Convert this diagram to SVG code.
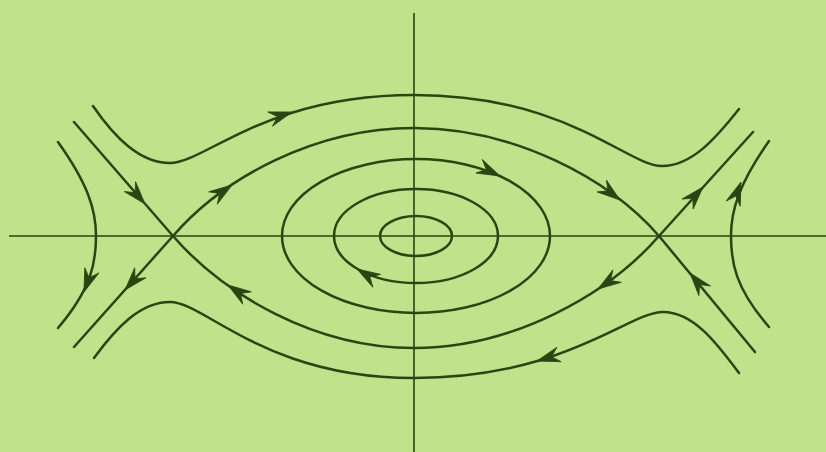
<svg xmlns="http://www.w3.org/2000/svg" xmlns:xlink="http://www.w3.org/1999/xlink" width="826" height="452" viewBox="0 0 826 452">
<style>
.axis{stroke:#2a4512;stroke-width:1.6;fill:none}
.orbit{stroke:#2a4512;stroke-width:2.5;fill:none;stroke-linecap:round}
.ah{fill:#2a4512;stroke:#2a4512;stroke-width:0.8;stroke-linejoin:round}
</style>
<defs>
<path id="ah" class="ah" d="M0,0 L-23,-7.5 L-15,0 L-23,7.5 Z"/>
</defs>
<rect width="826" height="452" fill="#bee38b"/>
<g id="axes">
<line class="axis" x1="9" y1="236" x2="826" y2="236"/>
<line class="axis" x1="414" y1="13" x2="414" y2="452"/>
</g>
<g id="center-orbits">
<ellipse class="orbit" cx="416" cy="236" rx="36" ry="20"/>
<ellipse class="orbit" cx="416" cy="236" rx="82" ry="47"/>
<ellipse class="orbit" cx="416" cy="236" rx="134" ry="77"/>
</g>
<g id="connectors">
<path id="sep-upper" class="orbit" d="M74,347 L173,236 C223,178.5 314,128 414,128 C514,128 609,178.5 659,236 L755,352"/>
<path id="sep-lower" class="orbit" d="M74,122 L173,236 C223,293.5 314,348 414,348 C514,348 609,293.5 659,236 L753,132"/>
<path id="rot-top" class="orbit" d="M93,106 C115,138 140,163 170,163 C205,163 265,95 414,95 C567,95 627,166 662,166 C692,166 716,138 739,109"/>
<path id="rot-bottom" class="orbit" d="M94,358 C116,328 140,302 170,302 C205,302 265,378 414,378 C565,378 628,312 663,312 C693,312 716,342 739,373"/>
<path id="side-left" class="orbit" d="M58,142 C88,184 96,210 96,236 C96,262 92,288 58,328"/>
<path id="side-right" class="orbit" d="M769,141 C739,184 731,210 731,236 C731,262 735,288 769,327"/>
</g>
<g id="arrows">
<use xlink:href="#ah" transform="translate(292,112) rotate(-18)"/>
<use xlink:href="#ah" transform="translate(500,176) rotate(25)"/>
<use xlink:href="#ah" transform="translate(357,269) rotate(-149)"/>
<use xlink:href="#ah" transform="translate(537,361) rotate(163.6)"/>
<use xlink:href="#ah" transform="translate(232,185) rotate(-34.5)"/>
<use xlink:href="#ah" transform="translate(620,200) rotate(37.6)"/>
<use xlink:href="#ah" transform="translate(598,289) rotate(146)"/>
<use xlink:href="#ah" transform="translate(228,285) rotate(-145.5)"/>
<use xlink:href="#ah" transform="translate(145,204) rotate(49)"/>
<use xlink:href="#ah" transform="translate(125,290) rotate(131.7)"/>
<use xlink:href="#ah" transform="translate(703,187) rotate(-47.9)"/>
<use xlink:href="#ah" transform="translate(690,273) rotate(-129.6)"/>
<use xlink:href="#ah" transform="translate(84,292) rotate(110)"/>
<use xlink:href="#ah" transform="translate(741,182) rotate(-70)"/>
</g>
</svg>
